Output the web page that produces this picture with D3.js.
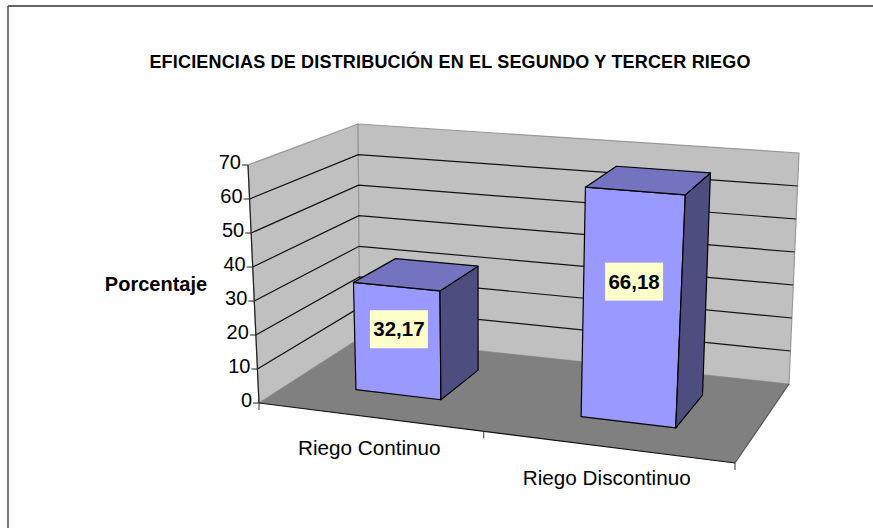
<!DOCTYPE html>
<html><head><meta charset="utf-8">
<script src="https://cdn.jsdelivr.net/npm/d3@7"></script>
<style>html,body{margin:0;padding:0;background:#fff}svg{display:block}text{font-family:"Liberation Sans",Arial,sans-serif;fill:#000}</style>
</head><body><svg id="c" width="873" height="528"></svg>
<script>
const titleText = "EFICIENCIAS DE DISTRIBUCIÓN EN EL SEGUNDO Y TERCER RIEGO";
const yTitle = "Porcentaje";
const categories = ["Riego Continuo", "Riego Discontinuo"];
const values = [32.17, 66.18];
const valueLabels = ["32,17", "66,18"];
const yTicks = [0, 10, 20, 30, 40, 50, 60, 70];

// Projection: the picture's 3-D box, given by its eight corners
const floorQuad = [[259,403],[735,463],[789,384],[360,338]];
const ceilQuad  = [[248,165],[752,205],[799,153],[358,124]];

function homography(q){
  const [A,B,C,D]=q;
  const sx=A[0]-B[0]+C[0]-D[0], sy=A[1]-B[1]+C[1]-D[1];
  const dx1=B[0]-C[0], dy1=B[1]-C[1], dx2=D[0]-C[0], dy2=D[1]-C[1];
  const den=dx1*dy2-dx2*dy1;
  const g=(sx*dy2-dx2*sy)/den, h=(dx1*sy-sx*dy1)/den;
  return (u,v)=>{
    const w=g*u+h*v+1;
    return [((B[0]-A[0]+g*B[0])*u+(D[0]-A[0]+h*D[0])*v+A[0])/w,
            ((B[1]-A[1]+g*B[1])*u+(D[1]-A[1]+h*D[1])*v+A[1])/w];
  };
}
const floorH=homography(floorQuad), ceilH=homography(ceilQuad);
const zScale=d3.scaleLinear().domain([0,70]).range([0,1]);
const xBand=d3.scaleBand().domain(categories).range([0,1]).paddingInner(0.61).paddingOuter(0.305);
const depth=d3.scaleLinear().domain([0,1]).range([0.3,0.73]);
const P=(u,v,val)=>{
  const a=floorH(u,v), b=ceilH(u,v), t=zScale(val);
  return [a[0]+(b[0]-a[0])*t, a[1]+(b[1]-a[1])*t];
};
const svg=d3.select("#c");
const line=d3.line();
const poly=(pts,fill,stroke,sw)=>svg.append("path").attr("d",line(pts)+"Z").attr("fill",fill)
  .attr("stroke",stroke||"none").attr("stroke-width",sw||0).attr("stroke-linejoin","round");
const seg=(a,b,stroke,sw)=>svg.append("line").attr("x1",a[0]).attr("y1",a[1]).attr("x2",b[0]).attr("y2",b[1])
  .attr("stroke",stroke).attr("stroke-width",sw);

// Frame
seg([8,6],[873,6],"#333",1.6);
seg([8,6],[8,528],"#555",1.6);

// Walls and floor
const wall="#c0c0c0", edge="#999";
poly([P(0,0,0),P(0,1,0),P(0,1,70),P(0,0,70)],wall,edge,1.2);
poly([P(0,1,0),P(1,1,0),P(1,1,70),P(0,1,70)],wall,edge,1.2);
poly([P(0,0,0),P(1,0,0),P(1,1,0),P(0,1,0)],"#808080");

// Gridlines
yTicks.filter(d=>d>0&&d<70).forEach(d=>{
  svg.append("path").attr("d",line([P(0,0,d),P(0,1,d),P(1,1,d)])).attr("fill","none").attr("stroke","#111").attr("stroke-width",1.2);
});

// Axes
seg(P(0,0,0),P(0,0,70),"#222",1.2);
seg(P(0,0,0),P(1,0,0),"#111",1.2);
seg(P(1,0,0),P(1,1,0),"#555",1.2);
yTicks.forEach(d=>{
  const p=P(0,0,d);
  seg([p[0]-6,p[1]],[p[0],p[1]],"#222",1);
  svg.append("text").attr("x",p[0]-7).attr("y",p[1]+4).attr("text-anchor","end").attr("font-size",20).attr("fill","#222").text(d);
});
[0,0.5,1].forEach(u=>{const p=P(u,0,0); seg(p,[p[0],p[1]+7],"#333",1);});

// Bars
categories.forEach((c,i)=>{
  const u0=xBand(c), u1=u0+xBand.bandwidth(), v0=depth(0), v1=depth(1), val=values[i];
  poly([P(u0,v0,0),P(u1,v0,0),P(u1,v0,val),P(u0,v0,val)],"#9999ff","#000",1.2);
  poly([P(u1,v0,0),P(u1,v1,0),P(u1,v1,val),P(u1,v0,val)],"#4d4d80","#000",1.2);
  poly([P(u0,v0,val),P(u1,v0,val),P(u1,v1,val),P(u0,v1,val)],"#7373bf","#000",1.2);
});
// Value labels
categories.forEach((c,i)=>{
  const p=P(xBand(c)+xBand.bandwidth()/2,depth(0),values[i]*0.61);
  const cx=p[0]+2, cy=p[1]+0.5;
  svg.append("rect").attr("x",cx-29).attr("y",cy-19).attr("width",58).attr("height",38).attr("fill","#ffffcc");
  svg.append("text").attr("x",cx).attr("y",cy+7).attr("text-anchor","middle").attr("font-weight","bold").attr("font-size",20.5).text(valueLabels[i]);
});
// Category labels
categories.forEach(c=>{
  const p=P(xBand(c)+xBand.bandwidth()/2,0,0);
  svg.append("text").attr("x",p[0]+1).attr("y",p[1]+38.5).attr("text-anchor","middle").attr("font-size",20.7).attr("fill","#222").text(c);
});
// Titles
svg.append("text").attr("x",450).attr("y",68).attr("text-anchor","middle").attr("font-weight","bold").attr("font-size",18).attr("letter-spacing",0.18).text(titleText);
svg.append("text").attr("x",156).attr("y",291).attr("text-anchor","middle").attr("font-weight","bold").attr("font-size",20).text(yTitle);
</script></body></html>
